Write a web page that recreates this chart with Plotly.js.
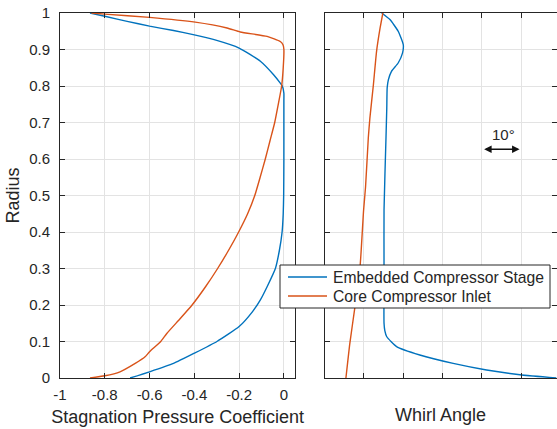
<!DOCTYPE html>
<html>
<head>
<meta charset="utf-8">
<script src="https://cdn.plot.ly/plotly-3.0.1.min.js"></script>
<style>html,body{margin:0;padding:0;background:#fff;}#chart{width:557px;height:429px;}</style>
</head>
<body>
<div id="chart"></div>
<script>
// Series names
const seriesNames = ["Embedded Compressor Stage", "Core Compressor Inlet"];

// Left panel: stagnation pressure coefficient vs radius
const embeddedCpRadius = [0, 0.017, 0.04, 0.068, 0.1, 0.141, 0.182, 0.214, 0.25, 0.3, 0.35, 0.4, 0.45, 0.5, 0.6, 0.7, 0.76, 0.78, 0.8, 0.808, 0.831, 0.868, 0.904, 0.925, 0.94, 0.952, 0.964, 0.977, 0.991, 1];
const embeddedCp = [-0.687, -0.6, -0.493, -0.4, -0.299, -0.2, -0.14, -0.105, -0.075, -0.038, -0.02, -0.008, -0.003, -0.001, 0, 0, 0, 0, -0.007, -0.016, -0.046, -0.105, -0.2, -0.3, -0.4, -0.493, -0.6, -0.7, -0.8, -0.866];

const coreCpRadius = [0, 0.006, 0.017, 0.04, 0.058, 0.072, 0.1, 0.122, 0.163, 0.2, 0.25, 0.3, 0.35, 0.4, 0.45, 0.5, 0.55, 0.6, 0.65, 0.7, 0.75, 0.8, 0.85, 0.9, 0.913, 0.922, 0.936, 0.948, 0.959, 0.975, 0.988, 0.997, 1];
const coreCp = [-0.866, -0.8, -0.732, -0.664, -0.62, -0.6, -0.55, -0.523, -0.463, -0.41, -0.35, -0.296, -0.247, -0.202, -0.162, -0.13, -0.106, -0.083, -0.062, -0.041, -0.025, -0.01, -0.003, 0, -0.004, -0.016, -0.075, -0.195, -0.254, -0.396, -0.6, -0.8, -0.86];

// Right panel: whirl angle (degrees, arbitrary origin) vs radius
const embeddedWhirlRadius = [0, 0.009, 0.022, 0.04, 0.063, 0.086, 0.113, 0.13, 0.15, 0.3, 0.46, 0.658, 0.74, 0.795, 0.817, 0.84, 0.863, 0.89, 0.913, 0.95, 0.982, 1];
const embeddedWhirl = [59.0, 49.7, 41.2, 32.7, 24.2, 18.3, 15.8, 15.3, 15.1, 15.1, 15.1, 15.6, 15.8, 15.9, 16.2, 17.0, 18.7, 19.8, 20.0, 18.7, 16.6, 14.5];

const coreWhirlRadius = [0, 0.095, 0.195, 0.305, 0.46, 0.524, 0.658, 0.712, 0.804, 0.895, 0.959, 1];
const coreWhirl = [5.4, 6.4, 7.7, 9.0, 9.9, 10.4, 11.1, 11.5, 12.4, 13.2, 14.1, 14.8];

// Tick values and labels
const cpTicks = [-1, -0.8, -0.6, -0.4, -0.2, 0];
const cpTickLabels = ["-1", "-0.8", "-0.6", "-0.4", "-0.2", "0"];
const radiusTicks = [0, 0.1, 0.2, 0.3, 0.4, 0.5, 0.6, 0.7, 0.8, 0.9, 1];
const radiusTickLabels = ["0", "0.1", "0.2", "0.3", "0.4", "0.5", "0.6", "0.7", "0.8", "0.9", "1"];
const whirlTicks = [10, 20, 30, 40, 50];

const BLUE = '#0072BD', ORANGE = '#D95319';
const AX = '#262626', GRID = '#e3e3e3';
const FONT = 'Liberation Sans, Arial, Helvetica, sans-serif';

// plot-area geometry (pixels) used for the hand-placed legend box
const W = 557, H = 429, ML = 60, MR = 0, MT = 13, MB = 51;
const PW = W - ML - MR, PH = H - MT - MB;
const px = v => (v - ML) / PW;
const py = v => (H - MB - v) / PH;

const lineStyle = c => ({color: c, width: 1.4, shape: 'spline', smoothing: 0.5});

const traces = [
  {x: embeddedCp, y: embeddedCpRadius, name: seriesNames[0], type: 'scatter', mode: 'lines',
   line: lineStyle(BLUE), xaxis: 'x', yaxis: 'y'},
  {x: coreCp, y: coreCpRadius, name: seriesNames[1], type: 'scatter', mode: 'lines',
   line: lineStyle(ORANGE), xaxis: 'x', yaxis: 'y'},
  {x: embeddedWhirl, y: embeddedWhirlRadius, name: seriesNames[0], type: 'scatter', mode: 'lines',
   line: lineStyle(BLUE), xaxis: 'x2', yaxis: 'y2'},
  {x: coreWhirl, y: coreWhirlRadius, name: seriesNames[1], type: 'scatter', mode: 'lines',
   line: lineStyle(ORANGE), xaxis: 'x2', yaxis: 'y2'}
];

const axBase = {
  showline: true, linecolor: AX, linewidth: 1, mirror: 'allticks',
  ticks: 'inside', ticklen: 5, tickcolor: AX, tickwidth: 1,
  showgrid: true, gridcolor: GRID, gridwidth: 1, zeroline: false,
  tickfont: {size: 15, color: AX, family: FONT}, fixedrange: true, tickangle: 0
};

const legendBox = {x0: 280, x1: 550, y0: 265, y1: 308};
const legendRows = [277, 296];
const legendColors = [BLUE, ORANGE];

const shapes = [
  {type: 'rect', xref: 'paper', yref: 'paper', layer: 'above',
   x0: px(legendBox.x0), x1: px(legendBox.x1), y0: py(legendBox.y0), y1: py(legendBox.y1),
   fillcolor: '#fff', line: {color: AX, width: 1}}
];
const annotations = [
  {xref: 'x2', yref: 'y2', x: 45.4, y: 0.666, text: '10°', showarrow: false,
   font: {size: 15, color: AX, family: FONT}},
  {xref: 'x2', yref: 'y2', x: 49.6, y: 0.627, axref: 'x2', ayref: 'y2', ax: 40.2, ay: 0.627,
   text: '', showarrow: true, arrowside: 'end+start', arrowhead: 2, arrowsize: 1,
   arrowwidth: 1.5, arrowcolor: '#111', standoff: 0, startstandoff: 0}
];
seriesNames.forEach((n, i) => {
  shapes.push({type: 'line', xref: 'paper', yref: 'paper', layer: 'above',
    x0: px(288), x1: px(327), y0: py(legendRows[i]), y1: py(legendRows[i]),
    line: {color: legendColors[i], width: 1.4}});
  annotations.push({xref: 'paper', yref: 'paper', x: px(331), y: py(legendRows[i]),
    xanchor: 'left', yanchor: 'middle', text: n, showarrow: false,
    font: {size: 15.7, color: AX, family: FONT}});
});

const layout = {
  width: W, height: H,
  margin: {l: ML, r: MR, t: MT, b: MB},
  paper_bgcolor: '#fff', plot_bgcolor: '#fff',
  font: {family: FONT, color: AX},
  showlegend: false,
  xaxis: Object.assign({}, axBase, {
    domain: [0, 0.473], range: [-1, 0.05], tickvals: cpTicks, ticktext: cpTickLabels,
    title: {text: 'Stagnation Pressure Coefficient', font: {size: 18, color: AX}, standoff: 8},
    anchor: 'y', ticklabelstandoff: 3
  }),
  yaxis: Object.assign({}, axBase, {
    domain: [0, 1], range: [0, 1], tickvals: radiusTicks, ticktext: radiusTickLabels,
    title: {text: 'Radius', font: {size: 18, color: AX}, standoff: 4},
    anchor: 'x', ticklabelstandoff: 6
  }),
  xaxis2: Object.assign({}, axBase, {
    domain: [0.5326, 0.999], range: [0, 59], tickvals: whirlTicks, showticklabels: false,
    title: {text: 'Whirl Angle', font: {size: 18, color: AX}, standoff: 30},
    anchor: 'y2'
  }),
  yaxis2: Object.assign({}, axBase, {
    domain: [0, 1], range: [0, 1], tickvals: radiusTicks, showticklabels: false,
    anchor: 'x2'
  }),
  shapes: shapes,
  annotations: annotations
};

Plotly.newPlot('chart', traces, layout, {displayModeBar: false, staticPlot: true});
</script>
</body>
</html>
